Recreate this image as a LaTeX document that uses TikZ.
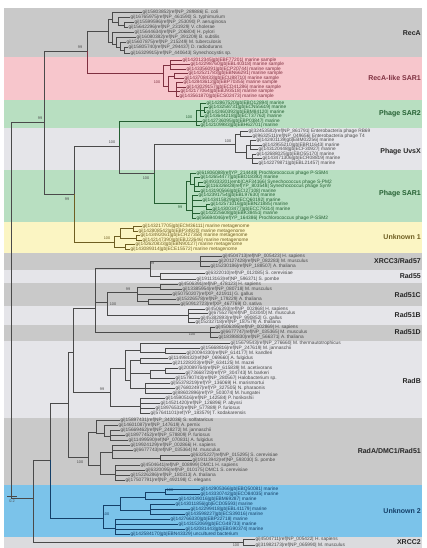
\documentclass[tikz,border=0pt]{standalone}
\usepackage{fontspec}
\setmainfont{Liberation Sans}
\definecolor{bgray}{HTML}{C9C9C9}
\definecolor{blight}{HTML}{E5E5E9}
\definecolor{bpink}{HTML}{F7C6CC}
\definecolor{bgreen}{HTML}{B8DFC1}
\definecolor{byellow}{HTML}{FBF5C3}
\definecolor{bblue}{HTML}{7BC3EA}
\definecolor{lgray}{HTML}{4A4A4A}
\definecolor{lrose}{HTML}{7E3040}
\definecolor{lgreen}{HTML}{245F32}
\definecolor{lolive}{HTML}{6E5E22}
\definecolor{lblue}{HTML}{143F68}
\tikzset{
 br/.style={line width=0.6pt},
 leaf/.style={anchor=west, inner sep=0.5pt, font=\fontsize{4.8}{5}\selectfont},
 bs/.style={inner sep=0pt, font=\fontsize{3.8}{4}\selectfont},
 grp/.style={anchor=east, inner sep=0pt, font=\fontsize{7}{8}\selectfont\bfseries},
}
\newcommand\tnode[4]{\coordinate (#1) at (#3,#4); \draw[br] (#2) |- (#1);}
\newcommand\tleaf[5]{\node[leaf] (#1) at (#3,#4) {#5}; \draw[br] (#2) |- (#1.west);}
\begin{document}
\begin{tikzpicture}[x=1pt,y=-1pt]
\useasboundingbox (0,0) rectangle (426,548);
\fill[white] (0,0) rectangle (426,548);
% bands
\fill[bgray]   (4,8) rectangle (422,57);
\fill[bpink]   (4,57) rectangle (422,100);
\fill[bgreen]  (4,100) rectangle (422,128);
\fill[blight]  (4,128) rectangle (422,170);
\fill[bgreen]  (4,170) rectangle (422,222);
\fill[byellow] (4,222) rectangle (422,253);
\fill[bgray]   (4,253) rectangle (422,270);
\fill[blight]  (4,270) rectangle (422,283);
\fill[bgray]   (4,283) rectangle (422,306);
\fill[blight]  (4,306) rectangle (422,325);
\fill[bgray]   (4,325) rectangle (422,341);
\fill[blight]  (4,341) rectangle (422,418);
\fill[bgray]   (4,418) rectangle (422,485);
\fill[bblue]   (4,485) rectangle (422,537);
\fill[blight!90!gray] (4,537) rectangle (422,548);
% group labels
\node[grp,text=black!85] (gRecA) at (421,33) {RecA};
\node[grp,text=lrose] (gSL) at (421,78) {RecA-like SAR1};
\node[grp,text=lgreen] (gP2) at (421,114) {Phage SAR2};
\node[grp,text=black!85] (gUV) at (421,152) {Phage UvsX};
\node[grp,text=lgreen] (gS1) at (421,194) {Phage SAR1};
\node[grp,text=lolive] (gK1) at (421,237) {Unknown 1};
\node[grp,text=black!85] (gX3) at (421,261) {XRCC3/Rad57};
\node[grp,text=black!85] (g57) at (421,276) {Rad55};
\node[grp,text=black!85] (g1C) at (421,295) {Rad51C};
\node[grp,text=black!85] (g1B) at (421,315) {Rad51B};
\node[grp,text=black!85] (g1D) at (421,332) {Rad51D};
\node[grp,text=black!85] (gRB) at (421,381) {RadB};
\node[grp,text=black!85] (gRA) at (421,451) {RadA/DMC1/Rad51};
\node[grp,text=lblue] (gK2) at (421,511) {Unknown 2};
\node[grp,text=black!85] (gX2) at (421,542) {XRCC2};
% backbone
\begin{scope}[color=lgray]
\coordinate (root) at (11,310);
\tnode{u}{root}{44}{122}
\tnode{lo}{root}{33}{498}
\tnode{a}{u}{87}{51}
\tnode{b}{u}{74}{194}
\tnode{c}{b}{119}{146}
\tnode{d}{c}{154}{173}
\tnode{n2}{lo}{50}{460}
\tnode{n3}{n2}{68}{403}
\tnode{n4}{n3}{73}{352}
\tnode{n5}{n4}{95}{308}
% RecA
\tnode{ra}{a}{108}{31}
\tnode{ra1}{ra}{112}{19}
\tleaf{r1}{ra1}{142}{12}{gi|15803852|ref|NP\_289886| E. coli}
\tnode{ra2}{ra1}{118}{22}
\tleaf{r2}{ra2}{130}{17}{gi|16765975|ref|NP\_461590| S. typhimurium}
\tnode{ra3}{ra2}{124}{25}
\tleaf{r3}{ra3}{134}{22}{gi|15599596|ref|NP\_253090| P. aeruginosa}
\tleaf{r4}{ra3}{128}{27}{gi|15642296|ref|NP\_231929| V. cholerae}
\tnode{ra4}{ra}{112}{42}
\tleaf{r5}{ra4}{134}{32}{gi|15644634|ref|NP\_206804| H. pylori}
\tnode{ra5}{ra4}{116}{44}
\tleaf{r6}{ra5}{136}{37}{gi|16080382|ref|NP\_391209| B. subtilis}
\tnode{ra6}{ra5}{120}{47}
\tleaf{r7}{ra6}{126}{42}{gi|15607875|ref|NP\_215249| M. tuberculosis}
\tnode{ra7}{ra6}{124}{50}
\tleaf{r8}{ra7}{128}{47}{gi|15805740|ref|NP\_294437| D. radiodurans}
\tleaf{r9}{ra7}{130}{53}{gi|16329915|ref|NP\_440643| Synechocystis sp.}
% UvsX
\tnode{uv}{d}{235}{144}
\tnode{uv1}{uv}{240}{134}
\tleaf{u1}{uv1}{248}{131.5}{gi|32453582|ref|NP\_861791| Enterobacteria phage RB69}
\tleaf{u2}{uv1}{252}{136}{gi|9632511|ref|NP\_049656| Enterobacteria phage T4}
\tnode{uv2}{uv}{246}{152}
\tnode{uv3}{uv2}{250}{145}
\tleaf{u3}{uv3}{256}{140.5}{gi|142401139|gb|EBM02256| marine}
\tleaf{u4}{uv3}{262}{145}{gi|142955210|gb|EBR11643| marine}
\tleaf{u5}{uv3}{258}{149.5}{gi|143120448|gb|ECF30927| marine}
\tnode{uv4}{uv2}{252}{158}
\tleaf{u6}{uv4}{256}{154}{gi|142688025|gb|EBO55170| marine}
\tleaf{u7}{uv4}{262}{158.5}{gi|143471306|gb|ECR08819| marine}
\tleaf{u8}{uv4}{258}{163}{gi|142279871|gb|EBL21457| marine}
% lower clades
\tnode{x35}{n5}{150}{268}
\tnode{x3}{x35}{200}{261}
\tleaf{xa}{x3}{222}{256}{gi|4504713|ref|NP\_005423| H. sapiens}
\tleaf{xb}{x3}{218}{261}{gi|20127428|ref|NP\_082283| M. musculus}
\tleaf{xc}{x3}{210}{266}{gi|15230186|ref|NP\_188507| A. thaliana}
\tnode{r57}{x35}{160}{276}
\tleaf{xd}{r57}{205}{273}{gi|6322010|ref|NP\_012085| S. cerevisiae}
\tleaf{xe}{r57}{196}{279}{gi|19113163|ref|NP\_596371| S. pombe}
\tnode{cb}{n5}{107}{302}
\tnode{r51c}{cb}{137}{292}
\tnode{c1}{r51c}{160}{287}
\tleaf{ca}{c1}{178}{284}{gi|4506391|ref|NP\_478123| H. sapiens}
\tleaf{cb2}{c1}{182}{289}{gi|13385954|ref|NP\_080718| M. musculus}
\tleaf{cc}{r51c}{172}{294}{gi|50750207|ref|XP\_421911| G. gallus}
\tnode{c2}{r51c}{148}{301}
\tleaf{cd}{c2}{176}{299}{gi|15226578|ref|NP\_179229| A. thaliana}
\tleaf{ce}{c2}{180}{304}{gi|50912723|ref|XP\_467769| O. sativa}
\tnode{r51b}{cb}{188}{315}
\tleaf{ba}{r51b}{205}{309}{gi|4506393|ref|NP\_002868| H. sapiens}
\tleaf{bb}{r51b}{208}{313.5}{gi|6755276|ref|NP\_033040| M. musculus}
\tleaf{bc}{r51b}{200}{318}{gi|45382893|ref|NP\_990852| G. gallus}
\tleaf{bd}{r51b}{195}{322}{gi|15232718|ref|NP\_187579| A. thaliana}
\tnode{r51d}{n5}{210}{332}
\tleaf{da}{r51d}{215}{327}{gi|4506395|ref|NP\_002869| H. sapiens}
\tleaf{db}{r51d}{220}{332}{gi|6677747|ref|NP\_035365| M. musculus}
\tleaf{dc}{r51d}{218}{337}{gi|18398830|ref|NP\_566371| A. thaliana}
% RadB
\tnode{rb}{n4}{110}{392}
\tnode{rb1}{rb}{125}{368}
\tnode{rb3}{rb1}{140}{350}
\tleaf{b1}{rb3}{230}{343}{gi|15679543|ref|NP\_276660| M. thermautotrophicus}
\tnode{rb3a}{rb3}{165}{352}
\tleaf{b2}{rb3a}{200}{348}{gi|15668816|ref|NP\_247619| M. jannaschii}
\tleaf{b3}{rb3a}{186}{353}{gi|20094330|ref|NP\_614177| M. kandleri}
\tnode{rb4}{rb1}{130}{380}
\tnode{rb5}{rb4}{140}{360}
\tleaf{b4}{rb5}{168}{358}{gi|11498432|ref|NP\_069660| A. fulgidus}
\tleaf{b5}{rb5}{172}{363}{gi|21228203|ref|NP\_634125| M. mazei}
\tnode{rb6}{rb4}{150}{373}
\tnode{rb6a}{rb6}{165}{370}
\tleaf{b6}{rb6a}{178}{368}{gi|20089764|ref|NP\_615839| M. acetivorans}
\tleaf{b7}{rb6a}{185}{373}{gi|73668728|ref|YP\_304743| M. barkeri}
\tleaf{b8}{rb6}{175}{378}{gi|15790743|ref|NP\_280567| Halobacterium sp.}
\tnode{rb7}{rb4}{145}{388}
\tleaf{b9}{rb7}{170}{383}{gi|55378219|ref|YP\_136069| H. marismortui}
\tleaf{b10}{rb7}{175}{388}{gi|76802497|ref|YP\_327505| N. pharaonis}
\tleaf{b11}{rb7}{172}{393}{gi|88602896|ref|YP\_503074| M. hungatei}
\tnode{rb2}{rb}{140}{406}
\tleaf{b12}{rb2}{165}{398}{gi|14590516|ref|NP\_142584| P. horikoshii}
\tleaf{b13}{rb2}{160}{403}{gi|14521420|ref|NP\_126896| P. abyssi}
\tleaf{b14}{rb2}{155}{408}{gi|18976532|ref|NP\_577889| P. furiosus}
\tleaf{b15}{rb2}{150}{413}{gi|57641101|ref|YP\_183579| T. kodakarensis}
% RadA
\tnode{rA}{n3}{88}{457}
\tnode{ra2a}{rA}{96}{432}
\tleaf{a1}{ra2a}{120}{420}{gi|15897431|ref|NP\_342036| S. solfataricus}
\tnode{ra2c}{ra2a}{104}{433}
\tleaf{a2}{ra2c}{118}{425}{gi|14601087|ref|NP\_147619| A. pernix}
\tnode{ra2d}{ra2c}{110}{436}
\tleaf{a3}{ra2d}{120}{430}{gi|15669462|ref|NP\_248272| M. jannaschii}
\tleaf{a4}{ra2d}{125}{435}{gi|18977452|ref|NP\_578809| P. furiosus}
\tleaf{a5}{ra2d}{128}{440}{gi|11499590|ref|NP\_070831| A. fulgidus}
\tnode{ra2b}{rA}{100}{465}
\tnode{ra2e}{ra2b}{112}{452}
\tleaf{a6}{ra2e}{130}{445}{gi|19924129|ref|NP\_002866| H. sapiens}
\tleaf{a7}{ra2e}{133}{450}{gi|6677743|ref|NP\_035364| M. musculus}
\tnode{ra2f}{ra2e}{160}{458}
\tleaf{a8}{ra2f}{190}{455}{gi|6325227|ref|NP\_015295| S. cerevisiae}
\tleaf{a9}{ra2f}{192}{460}{gi|19113942|ref|NP\_593030| S. pombe}
\tnode{ra2g}{ra2b}{115}{474}
\tleaf{a10}{ra2g}{140}{465}{gi|4504641|ref|NP\_008999| DMC1 H. sapiens}
\tleaf{a11}{ra2g}{145}{470}{gi|6320095|ref|NP\_010175| DMC1 S. cerevisiae}
\tleaf{a12}{ra2g}{130}{475}{gi|15226286|ref|NP\_180313| A. thaliana}
\tleaf{a13}{ra2g}{125}{480}{gi|17507791|ref|NP\_492198| C. elegans}
% XRCC2
\tnode{x2}{lo}{243}{542}
\tleaf{z1}{x2}{255}{539}{gi|4504711|ref|NP\_005422| H. sapiens}
\tleaf{z2}{x2}{255}{545}{gi|31982173|ref|NP\_065990| M. musculus}
% scale
\coordinate (sc1) at (7,496);
\coordinate (sc2) at (17,496);
\draw[br] (sc1) -- (sc2);
\node[bs] (scl) at (12,501) {0.2};
% bootstrap
\node[bs] (bs1) at (40,118) {99};
\node[bs] (bs2) at (80,47) {99};
\node[bs] (bs3) at (112,142) {100};
\node[bs] (bs4) at (67,199) {99};
\node[bs] (bs5) at (146,178) {100};
\node[bs] (bs6) at (228,141) {100};
\node[bs] (bs11) at (102,389) {99};
\node[bs] (bs12) at (80,462) {100};
\node[bs] (bs14) at (113,304) {100};
\node[bs] (bs15) at (128,289) {99};
\node[bs] (bs16) at (192,334) {100};
\node[bs] (bs17) at (152,263) {99};
\node[bs] (bs19) at (236,545) {100};
\end{scope}
% pink clade
\begin{scope}[color=lrose]
\tnode{sl}{a}{163}{73}
\tnode{sl1}{sl}{170}{65}
\tleaf{p1}{sl1}{182}{60}{gi|142012345|gb|EBF77201| marine sample}
\tleaf{p2l}{sl1}{190}{64.5}{gi|142298760|gb|EBL40318| marine sample}
\tleaf{p3}{sl1}{186}{69}{gi|143356091|gb|ECP20744| marine sample}
\tnode{sl2}{sl}{168}{86}
\tnode{sl3}{sl2}{174}{76}
\tleaf{p4}{sl3}{188}{73.5}{gi|142521783|gb|EBN66291| marine sample}
\tleaf{p5}{sl3}{184}{78}{gi|143708433|gb|ECU88710| marine sample}
\tnode{sl4}{sl2}{176}{91}
\tleaf{p6}{sl4}{183}{82.5}{gi|142843612|gb|EBP70355| marine sample}
\tleaf{p7}{sl4}{186}{87}{gi|143029157|gb|ECD41286| marine sample}
\tleaf{p8}{sl4}{180}{91.5}{gi|142177064|gb|EBJ93518| marine sample}
\tleaf{p9}{sl4}{179}{96}{gi|143561870|gb|ECS02473| marine sample}
\node[bs] (bs7) at (157,82) {100};
\end{scope}
% green clades
\begin{scope}[color=lgreen]
\tnode{p2}{c}{196}{121}
\tnode{p2a}{p2}{200}{110}
\tleaf{g1}{p2a}{206}{103}{gi|142867520|gb|EBQ12894| marine}
\tnode{p2b}{p2a}{204}{110}
\tleaf{g2}{p2b}{208}{107.5}{gi|143258731|gb|ECN55619| marine}
\tleaf{g3}{p2b}{206}{112}{gi|142460392|gb|EBM84120| marine}
\tleaf{g4}{p2a}{204}{116.5}{gi|143644218|gb|ECT37762| marine}
\tleaf{g5}{p2}{202}{121}{gi|142736095|gb|EBP03847| marine}
\tleaf{g6}{p2}{200}{125.5}{gi|142109983|gb|EBH62701| marine}
\node[bs] (bs8) at (189,117) {100};
\tnode{s1}{d}{186}{203}
\tnode{s1a}{s1}{190}{181}
\tleaf{h1}{s1a}{196}{173}{gi|61806088|ref|YP\_214448| Prochlorococcus phage P-SSM4}
\tnode{s1c}{s1a}{194}{184}
\tleaf{h2}{s1c}{200}{177.5}{gi|142654477|gb|EBO18392| marine}
\tnode{s1d}{s1c}{198}{186}
\tleaf{h3}{s1d}{203}{182}{gi|49333201|emb|CAF34166| Synechococcus phage S-PM2}
\tleaf{h4}{s1d}{205}{186.5}{gi|116326828|ref|YP\_803548| Synechococcus phage Syn9}
\tleaf{h5}{s1c}{200}{191}{gi|143190566|gb|ECI27108| marine}
\tnode{s1b}{s1}{192}{210}
\tleaf{h6}{s1b}{198}{195.5}{gi|142391754|gb|EBL97630| marine}
\tleaf{h7}{s1b}{202}{200}{gi|143415829|gb|ECQ60192| marine}
\tnode{s1e}{s1b}{206}{206}
\tleaf{h8}{s1e}{210}{204.5}{gi|142571016|gb|EBN21885| marine}
\tleaf{h9}{s1e}{212}{209}{gi|143003477|gb|ECC79314| marine}
\tleaf{h10}{s1b}{200}{213.5}{gi|142225608|gb|EBK38451| marine}
\tleaf{h11}{s1b}{196}{218}{gi|56694046|ref|YP\_164386| Prochlorococcus phage P-SSM2}
\node[bs] (bs9) at (180,207) {99};
\end{scope}
% unknown 1
\begin{scope}[color=lolive]
\tnode{k1}{b}{114}{242}
\tnode{k1a}{k1}{120}{236}
\tnode{k1b}{k1a}{133}{228}
\tleaf{y1}{k1b}{142}{226}{gi|143217705|gb|ECM36111| marine metagenome}
\tleaf{y2}{k1b}{138}{231}{gi|142808542|gb|EBP34920| marine metagenome}
\tnode{k1c}{k1a}{136}{238}
\tleaf{y3}{k1c}{140}{235.5}{gi|143492061|gb|ECR27358| marine metagenome}
\tleaf{y4}{k1c}{142}{240}{gi|142147390|gb|EBJ22646| marine metagenome}
\tnode{k1d}{k1}{125}{247}
\tleaf{y5}{k1d}{135}{244.5}{gi|142620833|gb|EBN90127| marine metagenome}
\tleaf{y6}{k1d}{130}{249}{gi|143089314|gb|ECE15572| marine metagenome}
\node[bs] (bs10) at (107,238) {100};
\end{scope}
% unknown 2
\begin{scope}[color=lblue]
\tnode{k2}{n2}{103}{518}
\tnode{k2a}{k2}{120}{505}
\tnode{k2b}{k2a}{145}{497}
\tnode{k2c}{k2b}{165}{492}
\tleaf{q1}{k2c}{200}{489}{gi|142905366|gb|EBQ50081| marine}
\tleaf{q2}{k2c}{200}{494}{gi|143330742|gb|ECO84035| marine}
\tleaf{q3}{k2b}{178}{499}{gi|142439016|gb|EBM69287| marine}
\tnode{k2d}{k2a}{150}{510}
\tleaf{q4}{k2d}{175}{504}{gi|143011856|gb|ECD05593| marine}
\tleaf{q5}{k2d}{190}{509}{gi|142299418|gb|EBL41179| marine}
\tleaf{q6}{k2d}{185}{514}{gi|143598227|gb|ECS39016| marine}
\tnode{k2e}{k2}{115}{528}
\tleaf{q7}{k2e}{170}{519}{gi|142766330|gb|EBP22718| marine}
\tleaf{q8}{k2e}{178}{524}{gi|143152069|gb|ECG48733| marine}
\tleaf{q9}{k2e}{185}{529}{gi|142081443|gb|EBG90374| marine}
\tleaf{q10}{k2e}{130}{534}{gi|142584170|gb|EBN43329| uncultured bacterium}
\node[bs] (bs13) at (106,514) {100};
\node[bs] (bs18) at (170,490) {100};
\end{scope}
\end{tikzpicture}
\end{document}
